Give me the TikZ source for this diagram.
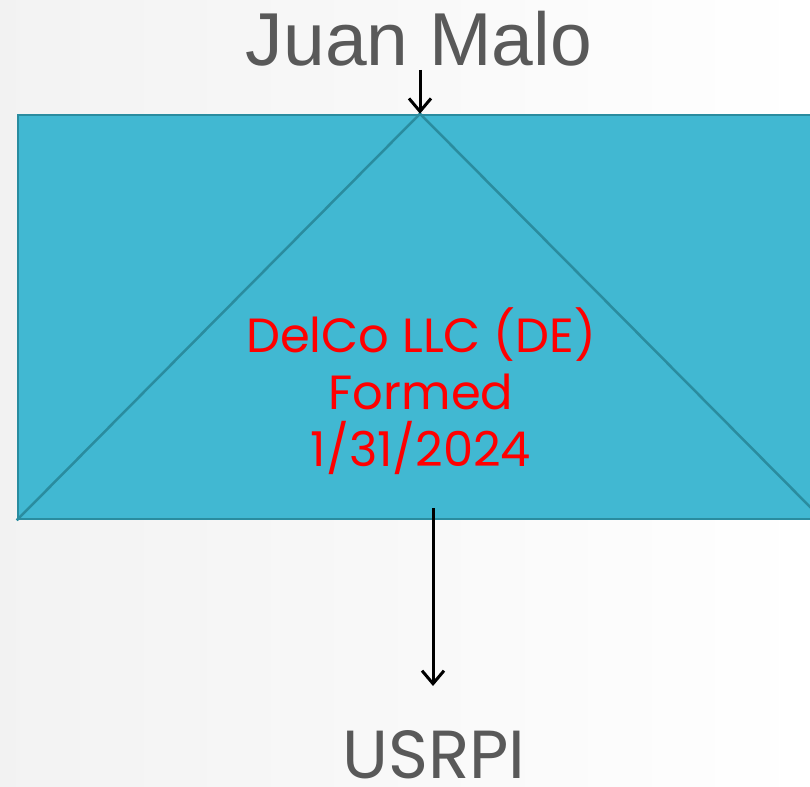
\documentclass[tikz,border=0pt]{standalone}
\usepackage{fontspec}
\setmainfont{Liberation Sans}
\newfontfamily\geofont{Poppins}
\usetikzlibrary{arrows.meta}
\definecolor{boxfill}{HTML}{41B8D2}
\definecolor{boxline}{HTML}{2A8C9F}
\definecolor{labelgray}{HTML}{595959}
\tikzset{
  entity/.style={draw=boxline, line width=2.5pt, fill=boxfill,
    minimum width=804pt, minimum height=404pt, inner sep=0pt},
  owner/.style={text=labelgray, inner sep=0pt, anchor=base, text depth=0pt},
  redtext/.style={text=red, align=center, inner sep=0pt,
    font=\geofont\fontsize{48}{57}\selectfont},
  link/.style={line width=3pt, -{Straight Barb[length=13pt,width=22pt,line width=3pt]}}
}
\begin{document}
\begin{tikzpicture}[x=1pt,y=-1pt]
  \useasboundingbox (0,0) rectangle (810,786);
  \clip (0,0) rectangle (810,786);
  % soft page background
  \shade[left color=black!5, right color=white] (0,0) rectangle (810,786);
  % entity box with the inner triangle
  \node[entity] (delco) at (420,317) {};
  \draw[boxline, line width=2.5pt] (delco.south west) -- (delco.north) -- (delco.south east);
  \node[redtext] (delcotext) at (421,391) {DelCo LLC (DE)\\Formed\\1/31/2024};
  % owner on top, property below
  \node[owner, font=\fontsize{75}{80}\selectfont] (juan) at (419,66) {Juan Malo};
  \node[owner, font=\geofont\fontsize{68}{70}\selectfont] (usrpi) at (434,778) {USRPI};
  \coordinate (top) at (420,70);
  \coordinate (from) at (433,508);
  \coordinate (to) at (433,686);
  \draw[link] (top) -- (delco.north);
  \draw[link] (from) -- (to);
\end{tikzpicture}
\end{document}
